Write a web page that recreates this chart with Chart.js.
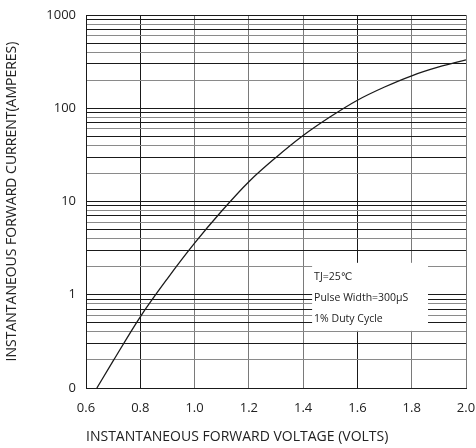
<!DOCTYPE html>
<html>
<head>
<meta charset="utf-8">
<script src="https://cdn.jsdelivr.net/npm/chart.js@4.4.1/dist/chart.umd.min.js"></script>
<style>
    html, body { margin:0; padding:0; background:#fff; }
    #wrap { width:476px; height:448px; }
</style>
</head>
<body>
<div id="wrap"><canvas id="graf" width="476" height="448"></canvas></div>
<script>

// curve
var voltage = [0.64, 0.70, 0.80, 0.90, 1.00, 1.10, 1.20, 1.30, 1.40, 1.50, 1.60, 1.70, 1.80, 1.90, 2.00]
var current = [0.1, 0.195, 0.58, 1.49, 3.57, 7.9, 16.3, 29.7, 51, 81, 122, 169, 223, 277, 330]

// axis ticks
var xTicks = [0.6, 0.8, 1.0, 1.2, 1.4, 1.6, 1.8, 2.0]
var yDecades = [0.1, 1, 10, 100, 1000]
var yDecadeLabels = ['0', '1', '10', '100', '1000']

// note box (x from/to in volts, y top/bottom in amperes) and its lines
var noteBox = [1.433, 1.86, 2.2, 0.41]
var noteLines = ['TJ=25\u2103', 'Pulse Width=300\u00b5S', '1% Duty Cycle']
var noteLineY = [1.56, 0.92, 0.55]

var FONT = '"Open Sans", "DejaVu Sans", sans-serif'

$ready(function(){
    configsInicio()
})

function $ready(fn){
    if(document.readyState !== 'loading'){ fn() }else{ document.addEventListener('DOMContentLoaded', fn) }
}

function configsInicio(){
    try{
        gerarGrafico()
    }catch(e){ console.log(e) }
}

/**
 * @description: minor grid values for the log axis (1..9 per decade)
 */
function logGridValues(){
    var vals = []
    for(var i = 0; i < yDecades.length - 1; i++){
        for(var m = 1; m <= 9; m++){
            vals.push(+(yDecades[i] * m).toPrecision(3))
        }
    }
    vals.push(yDecades[yDecades.length - 1])
    return vals
}

function mantissa(v){
    var e = Math.floor(Math.log10(v) + 1e-9)
    return Math.round(v / Math.pow(10, e))
}

/**
 * @description: white box with test conditions
 */
var notePlugin = {
    id: 'noteBox',
    beforeDatasetsDraw: function(chart){
        var x = chart.scales.x, y = chart.scales.y, ctx = chart.ctx
        var l = x.getPixelForValue(noteBox[0])
        var r = x.getPixelForValue(noteBox[1])
        var t = y.getPixelForValue(noteBox[2])
        var b = y.getPixelForValue(noteBox[3])
        ctx.save()
        ctx.fillStyle = '#fff'
        ctx.fillRect(l, t, r - l, b - t)
        ctx.fillStyle = '#222'
        ctx.font = '10.5px ' + FONT
        ctx.textBaseline = 'middle'
        ctx.textAlign = 'left'
        for(var i = 0; i < noteLines.length; i++){
            ctx.fillText(noteLines[i], l + 2, y.getPixelForValue(noteLineY[i]))
        }
        ctx.restore()
    }
}

function gerarGrafico(){
    var pts = voltage.map(function(v, i){ return {x: v, y: current[i]} })

    new Chart(
        document.getElementById('graf').getContext('2d'),
        {
            type: 'line',
            data: {
                datasets: [
                    {
                        data: pts,
                        borderColor: '#1a1a1a',
                        borderWidth: 1.3,
                        pointRadius: 0,
                        cubicInterpolationMode: 'monotone',
                        fill: false
                    }
                ]
            },
            options: {
                responsive: false,
                animation: false,
                layout: { padding: { top: 15, right: 10, left: 0, bottom: 0 } },
                plugins: {
                    legend: { display: false },
                    tooltip: { enabled: false }
                },
                scales: {
                    x: {
                        type: 'linear',
                        min: 0.6,
                        max: 2.0,
                        afterBuildTicks: function(scale){
                            scale.ticks = xTicks.map(function(v){ return {value: v} })
                        },
                        afterFit: function(scale){
                            scale.height = 60
                            scale.paddingRight = 0
                            scale.paddingLeft = 0
                        },
                        ticks: {
                            autoSkip: false,
                            maxRotation: 0,
                            padding: 12,
                            color: '#222',
                            font: { family: FONT, size: 13 },
                            callback: function(v){ return Number(v).toFixed(1) }
                        },
                        grid: {
                            drawTicks: false,
                            lineWidth: 1,
                            color: function(ctx){
                                var v = ctx.tick ? ctx.tick.value : 0
                                return (Math.abs(v - 0.8) < 1e-6 || Math.abs(v - 1.6) < 1e-6) ? '#1a1a1a' : '#7a7a7a'
                            }
                        },
                        border: { color: '#1a1a1a', width: 1 },
                        title: {
                            display: true,
                            text: 'INSTANTANEOUS FORWARD VOLTAGE (VOLTS)',
                            align: 'start',
                            color: '#222',
                            font: { family: FONT, size: 14 },
                            padding: { top: 0, bottom: 2.6 }
                        }
                    },
                    y: {
                        type: 'logarithmic',
                        min: 0.1,
                        max: 1000,
                        afterBuildTicks: function(scale){
                            scale.ticks = logGridValues().map(function(v){ return {value: v} })
                        },
                        afterFit: function(scale){
                            scale.width = 86
                            scale.paddingTop = 0
                            scale.paddingBottom = 0
                        },
                        ticks: {
                            autoSkip: false,
                            padding: 10,
                            color: '#222',
                            font: { family: FONT, size: 13 },
                            callback: function(v){
                                var k = yDecades.indexOf(+Number(v).toPrecision(3))
                                return k >= 0 ? yDecadeLabels[k] : ''
                            }
                        },
                        grid: {
                            drawTicks: false,
                            lineWidth: 1,
                            color: function(ctx){
                                var v = ctx.tick ? ctx.tick.value : 1
                                var m = mantissa(v)
                                return (m % 2 === 1) ? '#1a1a1a' : '#8a8a8a'
                            }
                        },
                        border: { color: '#1a1a1a', width: 1 },
                        title: {
                            display: true,
                            text: 'INSTANTANEOUS FORWARD CURRENT(AMPERES)',
                            color: '#222',
                            font: { family: FONT, size: 14 },
                            padding: { top: 4, bottom: 0 }
                        }
                    }
                }
            },
            plugins: [notePlugin]
        }
    )
}
</script>
</body>
</html>
